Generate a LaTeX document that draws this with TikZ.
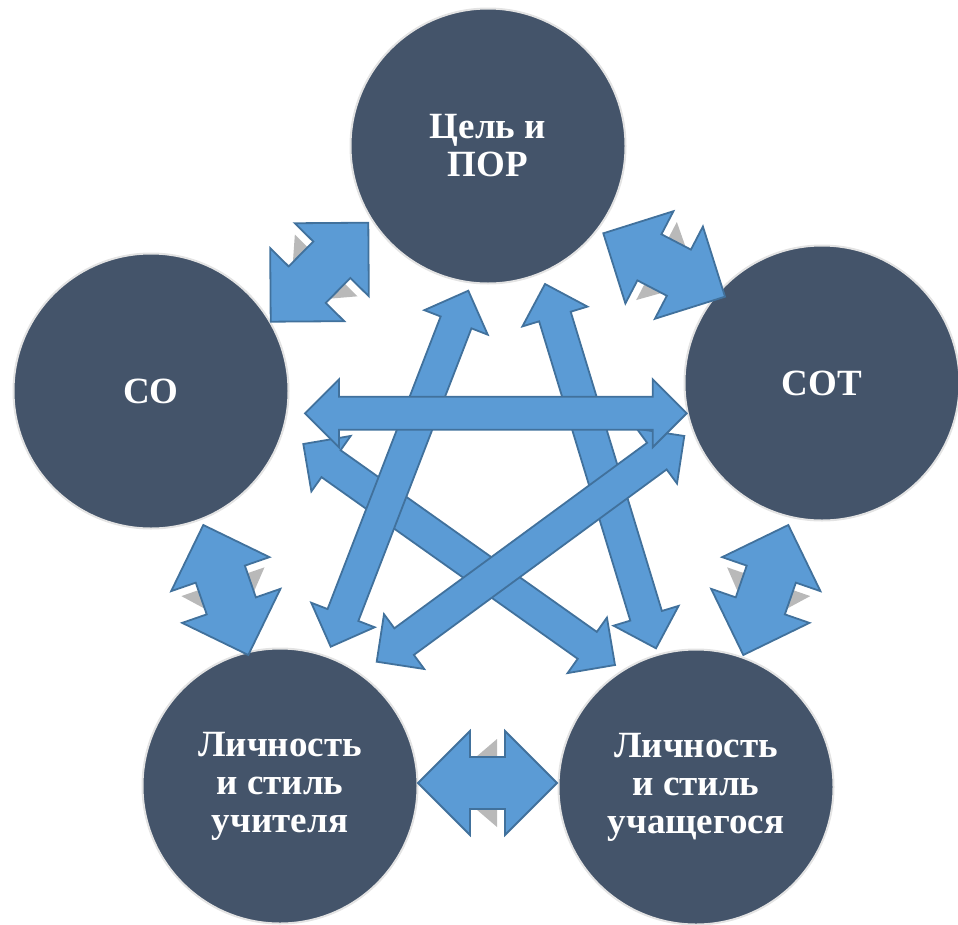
\documentclass[tikz,border=0pt]{standalone}
\usepackage{fontspec}
\setmainfont{Liberation Serif}
\usepackage{xcolor}
\usetikzlibrary{calc}

\definecolor{slate}{HTML}{44546A}
\definecolor{arrowfill}{HTML}{5B9BD5}
\definecolor{arrowline}{HTML}{41719C}

\tikzset{
	topic/.style={circle, fill=slate, draw=gray!22, line width=2pt, minimum size=275pt,
		text=white, align=center, font=\bfseries\fontsize{37}{38}\selectfont},
	arrowbody/.style={fill=arrowfill, draw=arrowline, line width=1.8pt, line join=miter},
	arrowshadow/.style={fill=gray!55}
}

% double block arrow: start, end, half shaft, half head, head length
\newcommand{\dblarrow}[5]{%
	\path ($(#1)!#5!(#2)$) coordinate (ha) ($(#2)!#5!(#1)$) coordinate (hb);
	\draw[arrowbody] (#1) -- ($(ha)!#4!90:(#2)$) -- ($(ha)!#3!90:(#2)$)
		-- ($(hb)!#3!-90:(#1)$) -- ($(hb)!#4!-90:(#1)$) -- (#2)
		-- ($(hb)!#4!90:(#1)$) -- ($(hb)!#3!90:(#1)$)
		-- ($(ha)!#3!-90:(#2)$) -- ($(ha)!#4!-90:(#2)$) -- cycle;}

% grey shadow in the notches of a short arrow
\newcommand{\notchshadow}[2]{%
	\path ($(#1)!58pt!(#2)$) coordinate (sp) ($(#2)!60pt!(#1)$) coordinate (sq);
	\fill[arrowshadow] ($(sp)!26pt!90:(#2)$) -- ($(sq)!26pt!-90:(#1)$) -- ($(sq)!44pt!-90:(#1)$) -- cycle;
	\fill[arrowshadow] ($(sp)!26pt!-90:(#2)$) -- ($(sq)!26pt!90:(#1)$) -- ($(sq)!44pt!90:(#1)$) -- cycle;}

\begin{document}
\begin{tikzpicture}[x=1pt,y=-1pt]
	\useasboundingbox (0,0) rectangle (958,924);

	% Circles
	\node[topic] (goal) at (488,146) {Цель и\\ПОР};
	\node[topic] (so) at (151,391) {СО};
	\node[topic] (sot) at (822,383) {СОТ};
	\node[topic] (teacher) at (280,786) {Личность\\и стиль\\учителя};
	\node[topic] (student) at (696,787) {Личность\\и стиль\\учащегося};

	% Short arrow tips
	\coordinate (a1) at (270.7,321.7); \coordinate (b1) at (368.3,222.7); % so - goal
	\coordinate (a2) at (725,296.7);   \coordinate (b2) at (603.3,233.3); % sot - goal
	\coordinate (a3) at (248.3,655);   \coordinate (b3) at (203.3,525);   % teacher - so
	\coordinate (a4) at (743.3,655);   \coordinate (b4) at (788.3,525);   % student - sot
	\coordinate (a5) at (418,783);     \coordinate (b5) at (557,783);     % teacher - student

	% Star arrow tips
	\coordinate (s1a) at (305,413.3);   \coordinate (s1b) at (686.7,413.3); % so - sot
	\coordinate (s2a) at (468.3,290.7); \coordinate (s2b) at (330.7,646.7); % goal - teacher
	\coordinate (s3a) at (545,284);     \coordinate (s3b) at (656,648.3);   % goal - student
	\coordinate (s4a) at (303.3,444);   \coordinate (s4b) at (615,665);     % so - student
	\coordinate (s5a) at (684.3,436);   \coordinate (s5b) at (376.7,661.7); % sot - teacher

	% Short arrows
	\foreach \i in {1,...,5} {
		\notchshadow{a\i}{b\i}
		\dblarrow{a\i}{b\i}{26pt}{52pt}{52pt}
	}

	% Star
	\foreach \i in {4,3,2,5,1} {
		\dblarrow{s\i a}{s\i b}{16.5pt}{34pt}{34pt}
	}
\end{tikzpicture}
\end{document}
